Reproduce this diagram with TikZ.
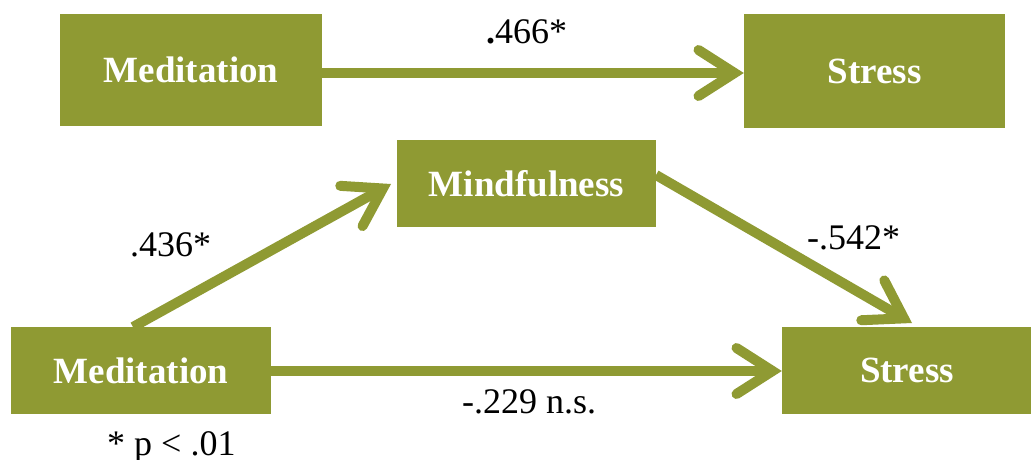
\documentclass[tikz,border=0pt]{standalone}
\usepackage{fontspec}
\setmainfont{Liberation Serif}
\usetikzlibrary{arrows.meta}
\definecolor{olive}{RGB}{143,154,51}
\begin{document}
\begin{tikzpicture}[x=1pt,y=-1pt,
  box/.style={fill=olive, draw=none, inner sep=0pt, text=white,
    font=\fontsize{37}{40}\selectfont\bfseries},
  lab/.style={inner sep=0pt, anchor=base west, font=\fontsize{36}{40}\selectfont},
  conn/.style={draw=olive, line width=10pt,
    -{Straight Barb[length=36pt,width=46pt,line cap=round,line join=miter]}}]
\useasboundingbox (0,0) rectangle (1031,460);
\node[box, minimum width=262pt, minimum height=112pt] (med1) at (191,70) {Meditation};
\node[box, minimum width=261pt, minimum height=114pt] (str1) at (874.5,71) {Stress};
\node[box, minimum width=259pt, minimum height=87pt] (mind) at (526.5,183.5) {Mindfulness};
\node[box, minimum width=260pt, minimum height=87pt] (med2) at (141,370.5) {Meditation};
\node[box, minimum width=250pt, minimum height=87pt] (str2) at (907,370.5) {Stress};
\coordinate (m2top) at (133,327);
\coordinate (mindL) at (391,184);
\coordinate (mindR) at (656,175);
\coordinate (s2top) at (912,323);
\draw[conn] (med1.east |- 0,73) -- (str1.west |- 0,73);
\draw[conn] (m2top) -- (mindL);
\draw[conn] (mindR) -- (s2top);
\draw[conn] (med2.east |- 0,371) -- (str2.west |- 0,371);
\node[lab] (l1) at (486,44) {{\bfseries .}466*};
\node[lab] (l2) at (130,256) {.436*};
\node[lab] (l3) at (807,249) {-.542*};
\node[lab] (l4) at (462,413) {-.229 n.s.};
\node[lab] (l5) at (107,455) {* p {\textless} .01};
\end{tikzpicture}
\end{document}
